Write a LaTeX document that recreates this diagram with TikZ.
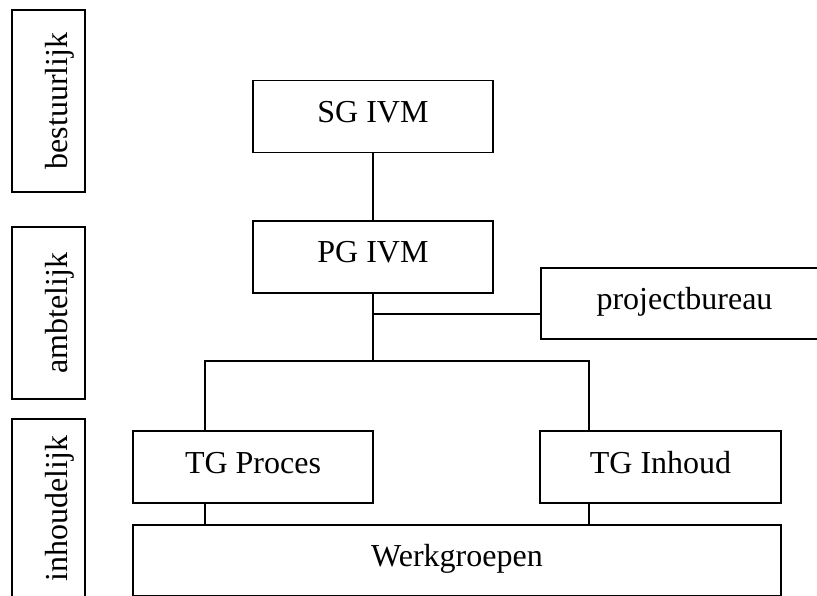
\documentclass[tikz,border=0pt]{standalone}
\usepackage{fontspec}
\setmainfont{Liberation Serif}
\begin{document}
\begin{tikzpicture}[x=1pt,y=-1pt,
  box/.style={draw, line width=1.3pt, inner sep=0pt, outer sep=0pt,
    font=\fontsize{32}{38}\selectfont, text height=22pt, text depth=10pt},
  vtext/.style={rotate=90, anchor=base, inner sep=0pt, font=\fontsize{32}{38}\selectfont},
  conn/.style={line width=1.3pt}]
\useasboundingbox (0,0) rectangle (817,596);
% level boxes
\node[box, minimum width=73pt, minimum height=182pt] (bst) at (48.5,101) {};
\node[box, minimum width=73pt, minimum height=172pt] (amb) at (48.5,313) {};
\node[box, minimum width=73pt, minimum height=181pt] (inh) at (48.5,509.5) {};
\node[vtext] (tbst) at (67,101) {bestuurlijk};
\node[vtext] (tamb) at (67,313) {ambtelijk};
\node[vtext] (tinh) at (67,508.5) {inhoudelijk};
% organisation boxes
\node[box, minimum width=240pt, minimum height=72pt] (sg) at (373,116.5) {SG IVM};
\node[box, minimum width=240pt, minimum height=72pt] (pg) at (373,257) {PG IVM};
\node[box, minimum width=287pt, minimum height=71pt] (pb) at (684.5,303.5) {projectbureau};
\node[box, minimum width=240pt, minimum height=72pt] (tgp) at (253,467) {TG Proces};
\node[box, minimum width=241pt, minimum height=72pt] (tgi) at (660.5,467) {TG Inhoud};
\node[box, minimum width=648pt, minimum height=71pt] (wg) at (457,560.5) {Werkgroepen};
% junction coordinates
\coordinate (jpb) at (373,314);
\coordinate (jbar) at (373,361);
\coordinate (jl) at (205,361);
\coordinate (jr) at (589,361);
% connectors
\draw[conn] (sg.south) -- (pg.north);
\draw[conn] (pg.south) -- (jbar);
\draw[conn] (jpb) -- (jpb -| pb.west);
\draw[conn] (jl |- tgp.north) -- (jl) -- (jr) -- (jr |- tgi.north);
\draw[conn] (jl |- tgp.south) -- (jl |- wg.north);
\draw[conn] (jr |- tgi.south) -- (jr |- wg.north);
\end{tikzpicture}
\end{document}
